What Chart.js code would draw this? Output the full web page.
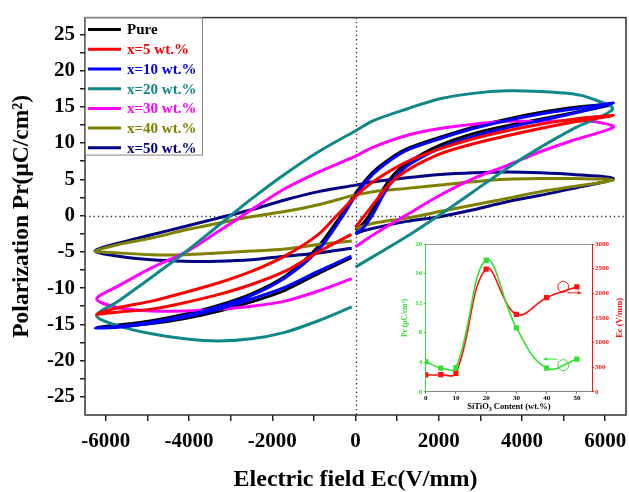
<!DOCTYPE html>
<html>
<head>
<meta charset="utf-8">
<script src="https://cdn.jsdelivr.net/npm/chart.js@4.4.0/dist/chart.umd.min.js"></script>
<style>
  html, body { margin: 0; padding: 0; background: #fff; }
  #wrap { position: relative; width: 629px; height: 492px; }
  #main { position: absolute; left: 0; top: 0; }
  #inset { position: absolute; left: 398px; top: 236px; }
</style>
</head>
<body>
<div id="wrap">
  <canvas id="main" width="629" height="492"></canvas>
  <canvas id="inset" width="228" height="176"></canvas>
</div>
<script>
// P-E loops: each run goes 0 -> +Emax, back to -Emax, then up to 0
const seriesLabels = ["Pure", "x=5 wt.%", "x=10 wt.%", "x=20 wt.%", "x=30 wt.%", "x=40 wt.%", "x=50 wt.%"]
const seriesColors = ["#000000", "#ff0000", "#0000ff", "#118888", "#ff00ff", "#808000", "#000080"]

const pureE = [0, 200, 430, 670, 910, 1230, 2030, 2830, 3640, 4440, 5240, 6150, 5240, 4440, 3640, 2830, 2030, 1230, 830, 420, 30, -350, -900, -1700, -2500, -3300, -4100, -4900, -5700, -6200, -5700, -4900, -4100, -3300, -2500, -1700, -900, -100]
const pureP = [-2.0, -1.0, 1.0, 3.7, 5.6, 7.2, 9.7, 11.3, 12.4, 13.3, 14.2, 15.3, 14.9, 14.2, 13.3, 12.2, 10.8, 9.2, 7.85, 6.0, 3.3, 0, -4.3, -8.4, -10.8, -12.4, -13.6, -14.5, -15.1, -15.4, -15.3, -14.9, -14.2, -13.2, -11.9, -10.3, -8.0, -5.8]

const x5E = [0, 350, 830, 1230, 2030, 2830, 3640, 4440, 5240, 6200, 5240, 4440, 3640, 2830, 2030, 1230, 430, 30, -450, -890, -1700, -2500, -3300, -4100, -4900, -5700, -6220, -5700, -4900, -4100, -3300, -2500, -1700, -890, -100]
const x5P = [-1.6, 1.0, 4.4, 6.2, 8.5, 9.9, 11.0, 12.0, 12.9, 13.8, 13.3, 12.6, 11.7, 10.6, 9.2, 7.4, 4.7, 2.8, 0, -2.6, -5.6, -7.7, -9.3, -10.6, -11.8, -12.7, -13.6, -13.3, -12.9, -12.0, -10.9, -9.5, -7.7, -5.0, -2.6]

const x10E = [0, 200, 450, 700, 950, 1230, 2030, 2830, 3640, 4440, 5240, 6200, 5240, 4440, 3640, 2830, 2030, 1230, 830, 420, 30, -300, -900, -1700, -2500, -3300, -4100, -4900, -5700, -6250, -5700, -4900, -4100, -3300, -2500, -1700, -900, -100]
const x10P = [-2.6, -1.6, 0.5, 3.2, 5.2, 6.8, 9.3, 10.9, 12.1, 13.1, 14.1, 15.5, 14.7, 14.0, 13.1, 12.0, 10.6, 9.0, 7.6, 5.7, 3.0, 0, -4.8, -8.6, -11.0, -12.6, -13.8, -14.7, -15.3, -15.5, -15.4, -14.8, -14.0, -12.9, -11.5, -9.9, -7.7, -5.6]

const x20E = [0, 1310, 2030, 2830, 3640, 4440, 5240, 6180, 5640, 5240, 4440, 3640, 2830, 2030, 1230, 430, 0, -890, -1700, -2500, -3300, -4100, -4900, -5700, -6220, -5700, -4900, -4100, -3300, -2500, -1700, -890, -90]
const x20P = [-7.1, -2.6, 0.1, 3.3, 6.5, 9.4, 12.0, 14.7, 16.2, 16.75, 17.1, 17.2, 16.85, 16.1, 14.7, 13.1, 11.7, 8.8, 5.7, 2.3, -1.4, -5.1, -8.5, -11.8, -13.8, -15.2, -16.3, -17.0, -17.3, -17.0, -16.1, -14.5, -12.6]

const x30E = [0, 430, 1230, 2030, 2830, 3640, 4440, 5240, 6200, 5640, 4440, 3640, 2830, 2030, 1230, 430, 0, -890, -1700, -2500, -3300, -4100, -4900, -5700, -6220, -5700, -4900, -4100, -3300, -2500, -1700, -890, -90]
const x30P = [-4.3, -2.65, 0.1, 2.8, 5.1, 6.9, 8.8, 10.4, 12.2, 13.0, 13.0, 13.0, 12.6, 12.0, 11.05, 9.45, 8.2, 6.0, 3.7, 0.8, -2.2, -5.1, -7.2, -9.7, -11.5, -12.7, -13.15, -13.15, -12.9, -12.5, -11.8, -10.4, -8.7]

const x40E = [0, 430, 1230, 2030, 2830, 3640, 4440, 5240, 6200, 5240, 4440, 3640, 2830, 2030, 1230, 430, 0, -890, -1700, -2500, -3300, -4100, -4900, -5700, -6260, -5700, -4900, -4100, -3300, -2500, -1700, -890, -90]
const x40P = [-1.75, -1.05, -0.35, 0.55, 1.45, 2.35, 3.3, 4.0, 4.9, 5.1, 5.1, 5.0, 4.65, 4.2, 3.75, 3.3, 2.85, 1.5, 0.55, -0.15, -1.05, -2.0, -3.1, -4.0, -4.9, -5.15, -5.4, -5.4, -5.15, -4.9, -4.6, -4.0, -3.5]

const x50E = [0, 430, 1230, 2030, 2830, 3640, 4440, 5240, 6200, 5240, 4440, 3640, 2830, 2030, 1230, 430, 0, -890, -1700, -2500, -3300, -4100, -4900, -5700, -6260, -5700, -4900, -4100, -3300, -2500, -1700, -890, -90]
const x50P = [-2.4, -1.75, -0.8, -0.15, 0.8, 1.9, 2.8, 3.75, 5.1, 5.65, 5.9, 6.0, 5.9, 5.65, 5.2, 4.65, 4.2, 3.3, 2.15, 0.8, -0.35, -1.5, -2.65, -3.8, -4.9, -5.6, -6.1, -6.3, -6.3, -6.1, -5.6, -5.15, -4.5]

const xTicks = [-6000, -5000, -4000, -3000, -2000, -1000, 0, 1000, 2000, 3000, 4000, 5000, 6000]
const yTicks = [-25, -22.5, -20, -17.5, -15, -12.5, -10, -7.5, -5, -2.5, 0, 2.5, 5, 7.5, 10, 12.5, 15, 17.5, 20, 22.5, 25]

// inset: remnant polarization and coercive field vs content
const insetContent = [0, 5, 10, 20, 30, 40, 50]
const insetPr = [4.05, 3.2, 3.25, 17.8, 8.65, 3.2, 4.4]
const insetEc = [340, 345, 375, 2490, 1570, 1910, 2130]
const insetXTicks = [0, 10, 20, 30, 40, 50]
const insetPrTicks = [0, 4, 8, 12, 16, 20]
const insetEcTicks = [0, 500, 1000, 1500, 2000, 2500, 3000]

const loops = [[pureE, pureP], [x5E, x5P], [x10E, x10P], [x20E, x20P], [x30E, x30P], [x40E, x40P], [x50E, x50P]]
const toPoints = (es, ps) => es.map((e, i) => ({ x: e, y: ps[i] }))
const serif = "'Liberation Serif', 'Times New Roman', serif"

const zeroLines = {
  id: "zeroLines",
  beforeDatasetsDraw(chart) {
    const { ctx, chartArea: a, scales } = chart
    const x0 = Math.round(scales.x.getPixelForValue(0)) + 0.5
    const y0 = Math.round(scales.y.getPixelForValue(0)) + 0.5
    ctx.save()
    ctx.strokeStyle = "#333"
    ctx.lineWidth = 1.3
    ctx.setLineDash([1.3, 3])
    ctx.beginPath()
    ctx.moveTo(a.left, y0); ctx.lineTo(a.right, y0)
    ctx.moveTo(x0, a.top); ctx.lineTo(x0, a.bottom)
    ctx.stroke()
    ctx.restore()
  }
}

const frameAndLegend = {
  id: "frameAndLegend",
  afterDraw(chart) {
    const { ctx, chartArea: a } = chart
    ctx.save()
    ctx.strokeStyle = "#333"
    ctx.lineWidth = 1.5
    ctx.strokeRect(a.left, a.top, a.right - a.left, a.bottom - a.top)

    // legend box in the upper left corner
    const boxW = 117, boxH = 137, rowH = 19.7
    ctx.fillStyle = "#fff"
    ctx.fillRect(a.left, a.top, boxW, boxH)
    ctx.strokeStyle = "#888"
    ctx.lineWidth = 1
    ctx.strokeRect(a.left + 0.5, a.top + 0.5, boxW, boxH)
    ctx.font = "bold 15px " + serif
    ctx.textBaseline = "middle"
    chart.data.datasets.forEach((ds, i) => {
      const y = a.top + 12 + i * rowH
      ctx.strokeStyle = ds.borderColor
      ctx.lineWidth = 3
      ctx.beginPath()
      ctx.moveTo(a.left + 3, y); ctx.lineTo(a.left + 36, y)
      ctx.stroke()
      ctx.fillStyle = ds.borderColor
      ctx.fillText(ds.label, a.left + 42, y + 1)
    })
    ctx.restore()
  }
}

new Chart(document.getElementById("main"), {
  type: "scatter",
  data: {
    datasets: loops.map((l, i) => ({
      label: seriesLabels[i],
      data: toPoints(l[0], l[1]),
      showLine: true,
      borderColor: seriesColors[i],
      backgroundColor: seriesColors[i],
      borderWidth: 3,
      tension: 0.3,
      pointRadius: 0,
      order: i === 0 ? 1 : 0
    }))
  },
  options: {
    responsive: false,
    animation: false,
    layout: { padding: { top: 15, right: 3, left: 0, bottom: 0 } },
    plugins: { legend: { display: false }, tooltip: { enabled: false } },
    scales: {
      x: {
        type: "linear",
        min: -6500,
        max: 6500,
        afterBuildTicks: s => { s.ticks = xTicks.map(v => ({ value: v })) },
        afterFit: s => { s.height = 77; s.paddingLeft = 0; s.paddingRight = 0 },
        grid: { drawOnChartArea: false, tickLength: 6, color: "#222", lineWidth: 1.5 },
        border: { display: false },
        ticks: {
          color: "#000",
          padding: 8,
          maxRotation: 0,
          autoSkip: false,
          font: { family: serif, weight: "bold", size: 21 },
          callback: v => v % 2000 === 0 ? String(v) : ""
        },
        title: {
          display: true,
          text: "Electric field Ec(V/mm)",
          color: "#000",
          padding: { top: 0, bottom: 0 },
          font: { family: serif, weight: "bold", size: 24, lineHeight: 1 }
        }
      },
      y: {
        min: -27.5,
        max: 27.3,
        afterBuildTicks: s => { s.ticks = yTicks.map(v => ({ value: v })) },
        afterFit: s => { s.width = 85 },
        grid: { drawOnChartArea: false, tickLength: 5, color: "#222", lineWidth: 1.5 },
        border: { display: false },
        ticks: {
          color: "#000",
          padding: 5,
          autoSkip: false,
          font: { family: serif, weight: "bold", size: 21 },
          callback: v => v % 5 === 0 ? String(v) : ""
        },
        title: {
          display: true,
          text: "Polarization Pr(\u03bcC/cm\u00b2)",
          color: "#000",
          padding: { top: 10, bottom: 0 },
          font: { family: serif, weight: "bold", size: 23.5, lineHeight: 1 }
        }
      }
    }
  },
  plugins: [zeroLines, frameAndLegend]
})

// ---- inset ----
const green = "#33e033"
const red = "#ff1111"

const insetDecor = {
  id: "insetDecor",
  afterDraw(chart) {
    const { ctx, chartArea: a, scales } = chart
    ctx.save()
    ctx.strokeStyle = "#999"
    ctx.lineWidth = 1
    ctx.beginPath()
    ctx.moveTo(a.left, a.top + 0.5); ctx.lineTo(a.right, a.top + 0.5)
    ctx.stroke()

    const arrow = (x1, y1, x2, y2, color) => {
      ctx.strokeStyle = color
      ctx.fillStyle = color
      ctx.lineWidth = 1
      ctx.beginPath(); ctx.moveTo(x1, y1); ctx.lineTo(x2, y2); ctx.stroke()
      const ang = Math.atan2(y2 - y1, x2 - x1)
      ctx.beginPath()
      ctx.moveTo(x2, y2)
      ctx.lineTo(x2 - 4 * Math.cos(ang - 0.45), y2 - 4 * Math.sin(ang - 0.45))
      ctx.lineTo(x2 - 4 * Math.cos(ang + 0.45), y2 - 4 * Math.sin(ang + 0.45))
      ctx.closePath(); ctx.fill()
    }
    // Ec marker -> right axis
    const rx = scales.x.getPixelForValue(45.5), ry = scales.y1.getPixelForValue(2130)
    ctx.strokeStyle = red; ctx.lineWidth = 1
    ctx.beginPath(); ctx.arc(rx, ry, 5.5, 0, Math.PI * 2); ctx.stroke()
    arrow(rx + 4, ry + 6, scales.x.getPixelForValue(51.5), ry + 6, red)
    // Pr marker -> left axis
    const gx = scales.x.getPixelForValue(45.5), gy = scales.y.getPixelForValue(3.6)
    ctx.strokeStyle = green
    ctx.beginPath(); ctx.arc(gx, gy, 5.5, 0, Math.PI * 2); ctx.stroke()
    arrow(gx - 6, gy - 6, scales.x.getPixelForValue(39), gy - 6, green)

    // bottom title with a real subscript
    ctx.fillStyle = "#000"
    ctx.textBaseline = "alphabetic"
    ctx.textAlign = "left"
    const big = "bold 8.5px " + serif, small = "bold 6px " + serif
    const parts = [["SiTiO", big, 0], ["3", small, 2], [" Content (wt.%)", big, 0]]
    let w = 0
    parts.forEach(p => { ctx.font = p[1]; w += ctx.measureText(p[0]).width })
    let tx = (a.left + a.right) / 2 - w / 2
    const base = 173
    parts.forEach(p => {
      ctx.font = p[1]
      ctx.fillText(p[0], tx, base + p[2])
      tx += ctx.measureText(p[0]).width
    })

    // right axis title, reading bottom to top like the left one
    ctx.fillStyle = red
    ctx.font = "bold 8.5px " + serif
    ctx.textAlign = "center"
    ctx.textBaseline = "middle"
    ctx.translate(222, (a.top + a.bottom) / 2)
    ctx.rotate(-Math.PI / 2)
    ctx.fillText("Ec (V/mm)", 0, 0)
    ctx.restore()
  }
}

const insetFont = { family: serif, weight: "bold", size: 7 }

new Chart(document.getElementById("inset"), {
  type: "line",
  data: {
    datasets: [
      {
        data: insetContent.map((c, i) => ({ x: c, y: insetPr[i] })),
        yAxisID: "y",
        borderColor: green,
        backgroundColor: green,
        borderWidth: 1.6,
        pointStyle: "rect",
        pointRadius: 2.6,
        tension: 0.4
      },
      {
        data: insetContent.map((c, i) => ({ x: c, y: insetEc[i] })),
        yAxisID: "y1",
        borderColor: red,
        backgroundColor: red,
        borderWidth: 1.6,
        pointStyle: "rect",
        pointRadius: 2.6,
        tension: 0.4
      }
    ]
  },
  options: {
    responsive: false,
    animation: false,
    layout: { padding: { top: 8, left: 0, right: 0, bottom: 0 } },
    plugins: { legend: { display: false }, tooltip: { enabled: false } },
    scales: {
      x: {
        type: "linear",
        min: 0,
        max: 55,
        afterBuildTicks: s => { s.ticks = insetXTicks.map(v => ({ value: v })) },
        afterFit: s => { s.height = 20.3; s.paddingLeft = 0; s.paddingRight = 0 },
        grid: { drawOnChartArea: false, tickLength: 2, color: "#777" },
        border: { display: true, color: "#888" },
        ticks: { color: "#000", padding: 0.5, maxRotation: 0, autoSkip: false, font: insetFont },
        title: { display: false }
      },
      y: {
        position: "left",
        min: 0,
        max: 20,
        afterBuildTicks: s => { s.ticks = insetPrTicks.map(v => ({ value: v })) },
        afterFit: s => { s.width = 27.7 },
        grid: { drawOnChartArea: false, tickLength: 2, color: green },
        border: { display: true, color: green },
        ticks: { color: green, padding: 1.5, autoSkip: false, font: insetFont },
        title: {
          display: true,
          text: "Pr (\u03bcC/cm\u00b2)",
          color: green,
          padding: { top: 3.5, bottom: 0 },
          font: { family: serif, weight: "bold", size: 7.5, lineHeight: 1 }
        }
      },
      y1: {
        position: "right",
        min: 0,
        max: 3000,
        afterBuildTicks: s => { s.ticks = insetEcTicks.map(v => ({ value: v })) },
        afterFit: s => { s.width = 34 },
        grid: { drawOnChartArea: false, tickLength: 2, color: red },
        border: { display: true, color: red },
        ticks: { color: red, padding: 1, autoSkip: false, font: insetFont, callback: v => String(v) }
      }
    }
  },
  plugins: [insetDecor]
})
</script>
</body>
</html>
